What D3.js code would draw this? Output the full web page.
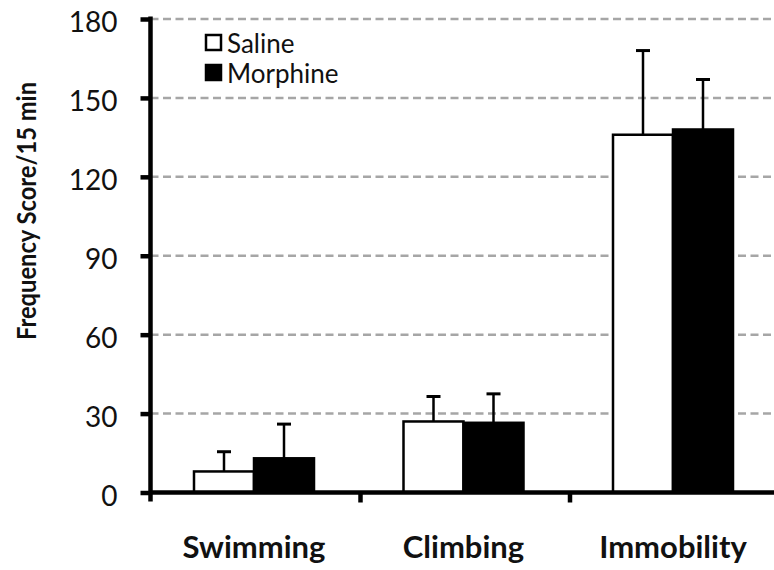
<!DOCTYPE html>
<html>
<head>
<meta charset="utf-8">
<script src="https://cdn.jsdelivr.net/npm/d3@7"></script>
<style>
  body { margin: 0; background: #fff; }
  svg { display: block; }
</style>
</head>
<body>
<svg id="chart" width="774" height="570"></svg>
<script>
// Forced swim test behaviour scores (mean ± SEM)
const categories = ["Swimming", "Climbing", "Immobility"];
const series = ["Saline", "Morphine"];
const salineMean = [8, 27, 136];
const salineErr = [7.5, 9.5, 32];
const morphineMean = [13, 26.5, 138];
const morphineErr = [13, 11, 19];
const yTicks = [0, 30, 60, 90, 120, 150, 180];
const yTitle = "Frequency Score/15 min";

const seriesFill = { Saline: "#ffffff", Morphine: "#000000" };
const rows = categories.map((c, i) => ({
  category: c,
  values: [
    { series: "Saline", mean: salineMean[i], err: salineErr[i] },
    { series: "Morphine", mean: morphineMean[i], err: morphineErr[i] }
  ]
}));

const svg = d3.select("#chart");
const axisX = 150.5;
const baseY = 492.5;

const y = d3.scaleLinear().domain([0, 180]).range([baseY, 19]);
const x0 = d3.scaleBand().domain(categories).range([151, 779.5]).padding(0);
const x1 = d3.scaleBand().domain(series).range([43, 163]).padding(0);

// dashed gridlines
svg.append("g")
  .selectAll("line")
  .data(yTicks.filter(t => t > 0))
  .join("line")
  .attr("x1", axisX).attr("x2", 774)
  .attr("y1", d => y(d)).attr("y2", d => y(d))
  .attr("stroke", "#a6a6a6")
  .attr("stroke-width", 2.5)
  .attr("stroke-dasharray", "8,4.5");

// bars
const groups = svg.append("g")
  .selectAll("g")
  .data(rows)
  .join("g")
  .attr("transform", d => `translate(${x0(d.category)},0)`);

groups.selectAll("rect")
  .data(d => d.values)
  .join("rect")
  .attr("x", d => x1(d.series))
  .attr("width", x1.bandwidth())
  .attr("y", d => y(d.mean))
  .attr("height", d => y(0) - y(d.mean))
  .attr("fill", d => seriesFill[d.series])
  .attr("stroke", "#000")
  .attr("stroke-width", 2.5);

// error bars (upper whisker only)
const err = groups.selectAll("g.err")
  .data(d => d.values)
  .join("g")
  .attr("class", "err")
  .attr("transform", d => `translate(${x1(d.series) + x1.bandwidth() / 2},0)`);
err.append("line")
  .attr("x1", 0).attr("x2", 0)
  .attr("y1", d => y(d.mean)).attr("y2", d => y(d.mean + d.err))
  .attr("stroke", "#000").attr("stroke-width", 2.5);
err.append("line")
  .attr("x1", -7).attr("x2", 7)
  .attr("y1", d => y(d.mean + d.err)).attr("y2", d => y(d.mean + d.err))
  .attr("stroke", "#000").attr("stroke-width", 3);

// y axis
const yAxis = svg.append("g")
  .attr("transform", `translate(${axisX},0)`)
  .call(d3.axisLeft(y).tickValues(yTicks).tickSize(10).tickSizeOuter(0).tickPadding(23));
yAxis.select(".domain").remove();
yAxis.selectAll(".tick line").attr("stroke", "#000").attr("stroke-width", 4.5);
yAxis.selectAll(".tick text")
  .attr("font-family", "Lato, sans-serif")
  .attr("font-size", 28)
  .attr("fill", "#111")
  .attr("dy", "0.46em");
svg.append("line")
  .attr("x1", axisX).attr("x2", axisX)
  .attr("y1", y(180) - 2.5).attr("y2", baseY + 9)
  .attr("stroke", "#000").attr("stroke-width", 4.5);

// x axis line with separator ticks
svg.append("line")
  .attr("x1", axisX).attr("x2", 774)
  .attr("y1", baseY).attr("y2", baseY)
  .attr("stroke", "#000").attr("stroke-width", 4.5);
svg.append("g")
  .selectAll("line")
  .data(categories.slice(1))
  .join("line")
  .attr("x1", d => x0(d)).attr("x2", d => x0(d))
  .attr("y1", baseY).attr("y2", baseY + 10)
  .attr("stroke", "#000").attr("stroke-width", 4.5);

// category labels
svg.append("g")
  .selectAll("text")
  .data(categories)
  .join("text")
  .attr("x", d => x0(d) + x1(series[0]) + x1.bandwidth())
  .attr("y", 558)
  .attr("text-anchor", "middle")
  .attr("font-family", "Lato, sans-serif")
  .attr("font-weight", "bold")
  .attr("font-size", 31)
  .attr("fill", "#111")
  .text(d => d);

// y axis title
svg.append("text")
  .attr("transform", "translate(36,211) rotate(-90)")
  .attr("text-anchor", "middle")
  .attr("font-family", "Lato, sans-serif")
  .attr("font-weight", "bold")
  .attr("font-size", 27)
  .attr("textLength", 258)
  .attr("lengthAdjust", "spacingAndGlyphs")
  .attr("fill", "#111")
  .text(yTitle);

// legend
const legend = svg.append("g")
  .selectAll("g")
  .data(series)
  .join("g")
  .attr("transform", (d, i) => `translate(206,${35 + i * 30})`);
legend.append("rect")
  .attr("x", 0).attr("y", 0)
  .attr("width", 15).attr("height", 15)
  .attr("fill", d => seriesFill[d])
  .attr("stroke", "#000")
  .attr("stroke-width", 2.5);
legend.append("text")
  .attr("x", 21).attr("y", 17.5)
  .attr("font-family", "Lato, sans-serif")
  .attr("font-size", 26)
  .attr("fill", "#111")
  .text(d => d);
</script>
</body>
</html>
